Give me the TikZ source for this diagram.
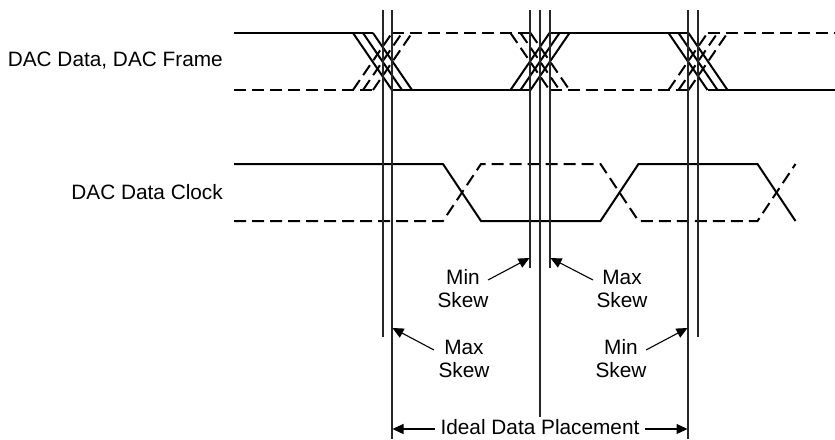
\documentclass[tikz,border=0pt]{standalone}
\usepackage{fontspec}
\setmainfont{Liberation Sans}
\usetikzlibrary{arrows.meta}
\begin{document}
\begin{tikzpicture}[x=1pt,y=-1pt,
  sig/.style={line width=2pt},
  dsh/.style={dash pattern=on 12pt off 6pt},
  guide/.style={line width=1.1pt, black!85},
  lbl/.style={font=\fontsize{20.8}{23}\selectfont, align=center, inner sep=0pt},
  ptr/.style={line width=1.1pt, -{Triangle[length=11pt,width=10pt]}}
]
\useasboundingbox (0,0) rectangle (835,439);
% ---------- signal labels
\node[lbl, anchor=east] (dlab) at (223,61) {DAC Data, DAC Frame};
\node[lbl, anchor=east] (clab) at (223,192.5) {DAC Data Clock};
% ---------- data / frame lines (high 33, low 90)
\def\cA{382.5}\def\cB{540}\def\cC{698}
\draw[sig] (234,33) -- (\cA-9.5,33);
\draw[sig,dsh] (234,90) -- (\cA-9.5,90);
\draw[sig,dsh] (\cA+9.5,33) -- (\cB-9.5,33);
\draw[sig] (\cA+9.5,90) -- (\cB-9.5,90);
\draw[sig] (\cB+9.5,33) -- (\cC-9.5,33);
\draw[sig,dsh] (\cB+9.5,90) -- (\cC-9.5,90);
\draw[sig,dsh] (\cC+9.5,33) -- (835,33);
\draw[sig] (\cC+9.5,90) -- (835,90);
\foreach \o in {-10,0,10}{
  % transition 1: solid falls, dashed rises
  \draw[sig] (\cA-19.5+\o,33) -- (\cA+19.5+\o,90);
  \draw[sig,dsh] (\cA-19.5+\o,90) -- (\cA+19.5+\o,33);
  % transition 2: solid rises, dashed falls
  \draw[sig] (\cB-19.5+\o,90) -- (\cB+19.5+\o,33);
  \draw[sig,dsh] (\cB-19.5+\o,33) -- (\cB+19.5+\o,90);
  % transition 3: solid falls, dashed rises
  \draw[sig] (\cC-19.5+\o,33) -- (\cC+19.5+\o,90);
  \draw[sig,dsh] (\cC-19.5+\o,90) -- (\cC+19.5+\o,33);
}
% ---------- clock lines (high 164, low 221)
\def\kA{462}\def\kB{619.5}\def\kC{776.5}
\draw[sig] (234,164) -- (\kA-19,164) -- (\kA+19,221) -- (\kB-19,221) -- (\kB+19,164) -- (\kC-19,164) -- (\kC+19,221);
\draw[sig,dsh] (234,221) -- (\kA-19,221) -- (\kA+19,164) -- (\kB-19,164) -- (\kB+19,221) -- (\kC-19,221) -- (\kC+19,164);
% ---------- guide lines
\draw[guide] (383,10) -- (383,337);
\draw[guide] (392,10) -- (392,439);
\draw[guide] (530,10) -- (530,268);
\draw[guide] (540,10) -- (540,417);
\draw[guide] (550,10) -- (550,268);
\draw[guide] (688,10) -- (688,439);
\draw[guide] (698,10) -- (698,337);
% ---------- skew labels
\node[lbl] (minU) at (463,288.5) {Min\\Skew};
\node[lbl] (maxU) at (622,288.5) {Max\\Skew};
\node[lbl] (maxL) at (464,358.5) {Max\\Skew};
\node[lbl] (minL) at (621,358.5) {Min\\Skew};
\coordinate (minUs) at (488,280);  \coordinate (minUt) at (529.5,258);
\coordinate (maxUs) at (593,280);  \coordinate (maxUt) at (550.5,258);
\coordinate (maxLs) at (434,350);  \coordinate (maxLt) at (392.5,328);
\coordinate (minLs) at (646,350);  \coordinate (minLt) at (687.5,328);
\draw[ptr] (minUs) -- (minUt);
\draw[ptr] (maxUs) -- (maxUt);
\draw[ptr] (maxLs) -- (maxLt);
\draw[ptr] (minLs) -- (minLt);
% ---------- ideal data placement
\node[lbl, inner xsep=5pt, anchor=base] (ideal) at (540,434.5) {Ideal Data Placement};
\coordinate (idL) at (392.5,429);
\coordinate (idR) at (687.5,429);
\draw[ptr] (ideal.west |- idL) -- (idL);
\draw[ptr] (ideal.east |- idR) -- (idR);
\end{tikzpicture}
\end{document}
